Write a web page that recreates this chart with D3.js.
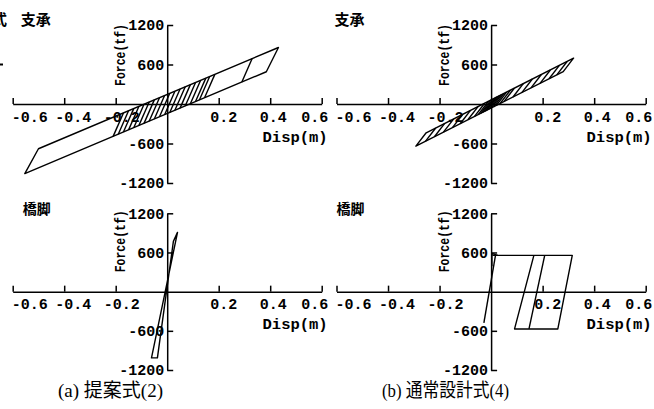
<!DOCTYPE html>
<html><head><meta charset="utf-8">
<script src="https://cdn.jsdelivr.net/npm/d3@7"></script>
<style>
html,body{margin:0;padding:0;background:#fff;}
svg{display:block;}
</style></head><body>
<svg id="c" width="654" height="409"></svg>
<script>
// ---------------- data ----------------
const xTicks = [-0.6, -0.4, -0.2, 0.2, 0.4, 0.6];
const xTickLabels = ["-0.6", "-0.4", "-0.2", "0.2", "0.4", "0.6"];
const yTicks = [1200, 600, -600, -1200];
const yTickLabels = ["1200", "600", "-600", "-1200"];
const xDomain = [-0.6, 0.6];
const yDomain = [-1200, 1200];
const panelTitles = ["支承", "支承", "橋脚", "橋脚"];
const captions = ["(a) 提案式(2)", "(b) 通常設計式(4)"];
const xAxisTitle = "Disp(m)";
const yAxisTitle = "Force(tf)";

// (a) bearing: outer loop (disp m, force tf)
const bearingA_outer = [[-0.553, -1057], [0.385, 490], [0.432, 858], [-0.500, -680]];
// (a) bearing: elastic branches (x1, f1, x2, f2)
const bearingA_hatch = [
  [-0.21, -492, -0.17, -136], [-0.19, -459, -0.15, -103], [-0.17, -426, -0.13, -70],
  [-0.15, -393, -0.11, -37], [-0.13, -360, -0.09, -4], [-0.11, -327, -0.07, 30],
  [-0.09, -294, -0.05, 63], [-0.07, -261, -0.03, 96], [-0.05, -228, -0.01, 129],
  [-0.03, -195, 0.01, 162], [-0.01, -162, 0.03, 195], [0.01, -129, 0.05, 228],
  [0.03, -96, 0.07, 261], [0.05, -63, 0.09, 294], [0.07, -30, 0.11, 327],
  [0.09, 4, 0.13, 360], [0.11, 37, 0.15, 393], [0.125, 61, 0.165, 417],
  [0.145, 94, 0.185, 450], [0.29, 334, 0.33, 690]
];
// (b) bearing
const bearingB_outer = [[-0.292, -640], [0.28, 492], [0.32, 696], [-0.252, -437]];
const bearingB_hatch = [
  [-0.255, -567, -0.215, -364], [-0.22, -498, -0.18, -294], [-0.185, -428, -0.145, -225],
  [-0.15, -359, -0.11, -156], [-0.12, -300, -0.08, -96], [-0.09, -240, -0.05, -37],
  [-0.065, -191, -0.025, 12], [-0.05, -161, -0.01, 42], [-0.04, -141, 0.0, 62],
  [-0.032, -125, 0.008, 78], [-0.024, -110, 0.016, 94], [-0.02, -102, 0.02, 102],
  [-0.016, -94, 0.024, 110], [-0.008, -78, 0.032, 125], [0.0, -62, 0.04, 141],
  [0.01, -42, 0.05, 161], [0.02, -22, 0.06, 181], [0.035, 7, 0.075, 211],
  [0.05, 37, 0.09, 240], [0.085, 106, 0.125, 310], [0.12, 176, 0.16, 379],
  [0.155, 245, 0.195, 448], [0.19, 314, 0.23, 517], [0.225, 384, 0.265, 587],
  [0.255, 443, 0.295, 646]
];
// (a) pier
const pierA_loop = [[0.040, 908], [-0.061, -1015], [-0.038, -1015], [0.024, 770]];
// (b) pier
const pierB_elastic = [[-0.028, -479], [0.017, 556]];
const pierB_flag = [[0.003, 390], [0.003, 585], [0.026, 556]];
const pierB_loop = [[0.005, 556], [0.315, 556], [0.259, -571], [0.091, -571], [0.166, 556]];
const pierB_inner = [[0.147, -571], [0.208, 556]];

// ---------------- layout ----------------
const colX = [[12.7, 321.7], [336.5, 645.7]];
const rowY = [[25, 183], [213.3, 370]];
const labelDx = [17, 9, 6, 5, 3, -7];
const monoFont = "'Liberation Mono', 'DejaVu Sans Mono', monospace";
const cjkFont = "'Noto Sans CJK JP', 'Noto Sans CJK SC', sans-serif";

const panels = [
  {col: 0, row: 0, closed: [bearingA_outer], open: [], segs: bearingA_hatch},
  {col: 1, row: 0, closed: [bearingB_outer], open: [], segs: bearingB_hatch},
  {col: 0, row: 1, closed: [pierA_loop], open: [], segs: []},
  {col: 1, row: 1, closed: [], open: [pierB_elastic, pierB_flag, pierB_loop, pierB_inner], segs: []}
];

const svg = d3.select("#c");
svg.append("rect").attr("width", 654).attr("height", 409).attr("fill", "#fff");

panels.forEach((p, i) => {
  const x = d3.scaleLinear().domain(xDomain).range(colX[p.col]);
  const y = d3.scaleLinear().domain(yDomain).range([rowY[p.row][1], rowY[p.row][0]]);
  const g = svg.append("g");

  const xa = g.append("g").attr("transform", `translate(0,${y(0)})`)
    .call(d3.axisTop(x).tickValues(xTicks).tickSize(6).tickSizeOuter(0).tickFormat(""));
  const ya = g.append("g").attr("transform", `translate(${x(0)},0)`)
    .call(d3.axisRight(y).tickValues(yTicks).tickSize(6).tickSizeOuter(0).tickFormat(""));
  [xa, ya].forEach(a => {
    a.selectAll("path,line").attr("stroke", "#000").attr("stroke-width", 1.5);
  });

  g.selectAll(".xl").data(xTicks).enter().append("text")
    .attr("x", (d, k) => x(d) + labelDx[k])
    .attr("y", y(0) + 17.5)
    .attr("text-anchor", "middle")
    .attr("font-family", monoFont).attr("font-weight", "bold").attr("font-size", 15)
    .text((d, k) => xTickLabels[k]);
  g.selectAll(".yl").data(yTicks).enter().append("text")
    .attr("x", x(0) - 3)
    .attr("y", d => y(d))
    .attr("dy", "0.36em")
    .attr("text-anchor", "end")
    .attr("font-family", monoFont).attr("font-weight", "bold").attr("font-size", 15)
    .text((d, k) => yTickLabels[k]);

  g.append("text")
    .attr("x", x(0.6) + 6).attr("y", y(0) + (p.row === 0 ? 38 : 37))
    .attr("text-anchor", "end")
    .attr("font-family", monoFont).attr("font-weight", "bold").attr("font-size", 15.5)
    .text(xAxisTitle);
  g.append("text")
    .attr("transform", `translate(${x(0) - 42},${y(1200) + (p.row === 0 ? 30 : 28)}) rotate(-90)`)
    .attr("text-anchor", "middle")
    .attr("font-family", monoFont).attr("font-weight", "bold").attr("font-size", 14)
    .attr("textLength", 62).attr("lengthAdjust", "spacingAndGlyphs")
    .text(yAxisTitle);

  g.append("text")
    .attr("x", x(-0.6) + (p.col === 0 ? 8 : -2) + (p.row === 1 ? 2 : 0))
    .attr("y", y(1200) + (p.row === 0 ? 0 : 1))
    .attr("font-family", cjkFont).attr("font-weight", "bold").attr("font-size", p.row === 0 ? 15 : 14)
    .text(panelTitles[i]);

  const line = d3.line().x(d => x(d[0])).y(d => y(d[1]));
  const lineC = d3.line().x(d => x(d[0])).y(d => y(d[1])).curve(d3.curveLinearClosed);
  const dg = g.append("g").attr("fill", "none").attr("stroke", "#000")
    .attr("stroke-width", 1.4).attr("stroke-linejoin", "round");
  p.closed.forEach(c => dg.append("path").attr("d", lineC(c)));
  p.open.forEach(c => dg.append("path").attr("d", line(c)));
  dg.selectAll(".h").data(p.segs).enter().append("line")
    .attr("x1", d => x(d[0])).attr("y1", d => y(d[1]))
    .attr("x2", d => x(d[2])).attr("y2", d => y(d[3]));
});

// captions
const capX = [58, 382];
const capLen = [105, 127];
captions.forEach((c, k) => {
  svg.append("text")
    .attr("x", capX[k]).attr("y", 397)
    .attr("font-family", "'Liberation Serif', " + cjkFont).attr("font-size", 19)
    .attr("textLength", capLen[k]).attr("lengthAdjust", "spacingAndGlyphs")
    .text(c);
});

// fragment of neighbouring figure at left edge
svg.append("text").attr("x", -8).attr("y", 25)
  .attr("font-family", cjkFont).attr("font-weight", "bold").attr("font-size", 15).text("式");
svg.append("line").attr("x1", 0).attr("y1", 64.5).attr("x2", 3).attr("y2", 64.5)
  .attr("stroke", "#000").attr("stroke-width", 2);
</script>
</body></html>
